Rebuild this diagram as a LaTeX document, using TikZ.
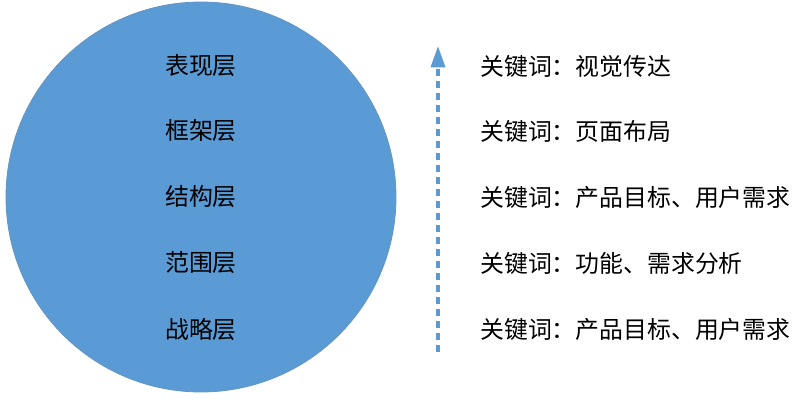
\documentclass[tikz,border=0pt]{standalone}
\usepackage{fontspec}
\setmainfont{Noto Sans CJK SC}
\usetikzlibrary{arrows.meta}
\definecolor{layerblue}{RGB}{91,155,213}
\tikzset{
  layer/.style={font=\fontsize{17.9}{20}\selectfont, text=black},
  keyword/.style={font=\fontsize{17.9}{20}\selectfont, text=black, anchor=west, inner sep=0pt},
}
\begin{document}
\begin{tikzpicture}[x=0.75pt,y=-0.75pt]
\useasboundingbox (0,0) rectangle (803,402);
% the circle
\draw[fill=layerblue, draw=layerblue!75!gray, line width=0.6pt] (201,197) circle (195);
% layers
\node[layer] (biaoxian) at (201,66)  {表现层};
\node[layer] (kuangjia) at (201,131) {框架层};
\node[layer] (jiegou)   at (201,197) {结构层};
\node[layer] (fanwei)   at (201,263) {范围层};
\node[layer] (zhanlue)  at (201,329) {战略层};
% arrow
\coordinate (bottom) at (438,352);
\coordinate (top) at (438,46);
\draw[layerblue, line width=2.6pt, dash pattern=on 5.2pt off 3.8pt,
  -{Triangle[length=16pt,width=10.5pt]}] (bottom) -- (top);
% keywords
\node[keyword] (k1) at (480,66)  {关键词：视觉传达};
\node[keyword] (k2) at (480,131) {关键词：页面布局};
\node[keyword] (k3) at (480,197) {关键词：产品目标、用户需求};
\node[keyword] (k4) at (480,263) {关键词：功能、需求分析};
\node[keyword] (k5) at (480,329) {关键词：产品目标、用户需求};
\end{tikzpicture}
\end{document}
